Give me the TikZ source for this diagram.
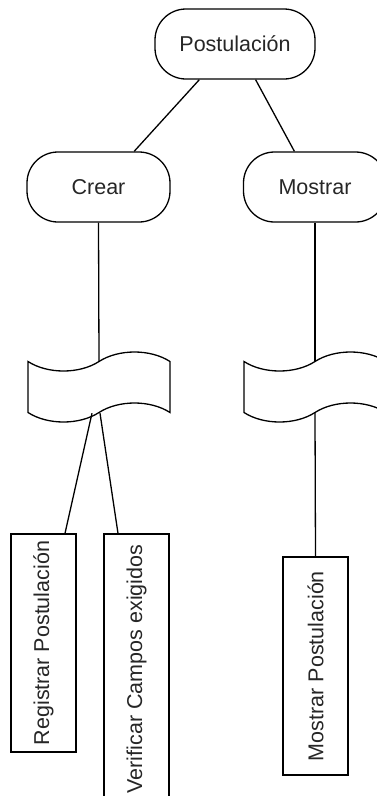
\documentclass[tikz,border=0pt]{standalone}
\usepackage{fontspec}
\setmainfont{Liberation Sans}
\usetikzlibrary{shapes.symbols,positioning}
\tikzset{
  basic/.style   = {draw, line width=1.3pt, font=\fontsize{21.5}{25}\selectfont,
                    text=black!85},
  root/.style    = {basic, rectangle, rounded corners=31pt,
                    minimum width=160pt, minimum height=70pt},
  level 2/.style = {basic, rectangle, rounded corners=31pt,
                    minimum width=143pt, minimum height=70pt},
  wave/.style    = {basic, tape, tape bend height=19pt,
                    minimum width=142pt, minimum height=70pt},
  level 3/.style = {basic, rectangle, rotate=90, inner sep=0pt,
                    minimum height=65pt, minimum width=218pt}
}

\begin{document}
\begin{tikzpicture}[x=1pt, y=-1pt, link/.style={line width=1.3pt}]
	\useasboundingbox (0,0) rectangle (377,796);

	% root of the diagram
	\node[root] (r) at (235,44) {Postulación};

	% the first level
	\node[level 2] (c1) at (98.5,187) {Crear};
	\node[level 2] (c2) at (315,187) {Mostrar};

	% the wavy blocks below each first level node
	\node[wave] (w1) at (99,387) {};
	\node[wave] (w2) at (315,387) {};

	% the second level, turned on their side
	\node[level 3] (c11) at (43.5,643) {Registrar Postulación};
	\node[level 3, minimum width=270pt] (c12) at (136.5,669) {Verificar Campos exigidos};
	\node[level 3] (c21) at (315.5,666) {Mostrar Postulación};

	% lines between the levels
	\draw[link] (r.225) -- (c1.45);
	\draw[link] (r.300) -- (c2.120);
	\draw[link] (c1.south) -- (w1.north);
	\draw[link] (c2.south) -- (w2.north);
	\draw[link] ([xshift=-7pt]w1.south) -- ([xshift=21.5pt]c11.east);
	\draw[link] ([xshift=1pt]w1.south) -- ([xshift=-18.5pt]c12.east);
	\draw[link] (w2.south) -- (c21.east);
\end{tikzpicture}
\end{document}
